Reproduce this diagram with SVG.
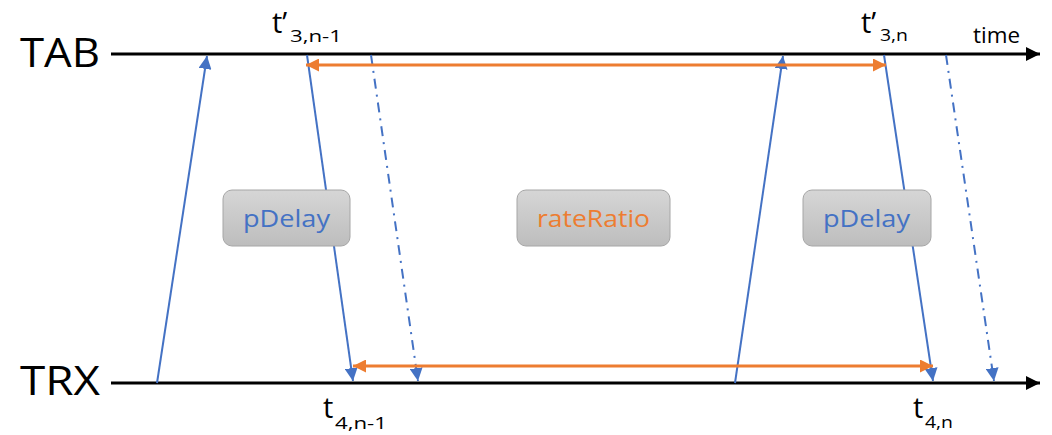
<svg xmlns="http://www.w3.org/2000/svg" width="1052" height="435" viewBox="0 0 1052 435">
<defs>
<linearGradient id="g" x1="0" y1="0" x2="0" y2="1"><stop offset="0" stop-color="#d6d6d6"/><stop offset="1" stop-color="#bdbdbd"/></linearGradient>
<marker id="ab" viewBox="0 0 10 10" refX="10" refY="5" markerWidth="13" markerHeight="13" markerUnits="userSpaceOnUse" orient="auto"><path d="M0,0L10,5L0,10z" fill="#4472c4"/></marker>
<marker id="ao" viewBox="0 0 10 10" refX="10" refY="5" markerWidth="13" markerHeight="13" markerUnits="userSpaceOnUse" orient="auto-start-reverse"><path d="M0,0L10,5L0,10z" fill="#ed7d31"/></marker>
<marker id="ak" viewBox="0 0 10 10" refX="10" refY="5" markerWidth="14" markerHeight="14" markerUnits="userSpaceOnUse" orient="auto"><path d="M0,0L10,5L0,10z" fill="#000"/></marker>
</defs>
<style>
text{font-family:"Open Sans","Noto Sans",sans-serif;fill:#000}
.ax{stroke:#000;stroke-width:3;fill:none}
.b{stroke:#4472c4;stroke-width:2;fill:none}
.bd{stroke:#4472c4;stroke-width:2;fill:none;stroke-dasharray:10,6,2,6}
.o{stroke:#ed7d31;stroke-width:3;fill:none}
.box{fill:url(#g);stroke:#a6a6a6;stroke-width:1}
.lbl{font-size:24px}
.big{font-size:29px}
.sub{font-size:17px}
</style>
<g id="axes">
<text x="20" y="67" font-size="40" textLength="80" lengthAdjust="spacingAndGlyphs">TAB</text>
<line class="ax" x1="111" y1="54" x2="1040" y2="54" marker-end="url(#ak)"/>
<text x="20" y="395" font-size="40" textLength="80" lengthAdjust="spacingAndGlyphs">TRX</text>
<line class="ax" x1="111" y1="383" x2="1040" y2="383" marker-end="url(#ak)"/>
<text x="973" y="43" font-size="22" textLength="47" lengthAdjust="spacingAndGlyphs">time</text>
</g>
<g id="labels">
<text class="big" x="272" y="33">t’</text>
<text class="sub" x="290" y="42" textLength="52" lengthAdjust="spacingAndGlyphs">3,n-1</text>
<text class="big" x="861" y="33">t’</text>
<text class="sub" x="880" y="41" textLength="28" lengthAdjust="spacingAndGlyphs">3,n</text>
<text class="big" x="323" y="418">t</text>
<text class="sub" x="335" y="429" textLength="52" lengthAdjust="spacingAndGlyphs">4,n-1</text>
<text class="big" x="913" y="418">t</text>
<text class="sub" x="925" y="428" textLength="28" lengthAdjust="spacingAndGlyphs">4,n</text>
</g>
<g id="connectors">
<line class="b" x1="157" y1="383" x2="207" y2="56" marker-end="url(#ab)"/>
<line class="b" x1="307" y1="55" x2="353" y2="381" marker-end="url(#ab)"/>
<line class="bd" x1="371" y1="55" x2="418" y2="381" marker-end="url(#ab)"/>
<line class="b" x1="735" y1="383" x2="783" y2="56" marker-end="url(#ab)"/>
<line class="b" x1="884" y1="55" x2="933" y2="381" marker-end="url(#ab)"/>
<line class="bd" x1="946" y1="55" x2="994" y2="381" marker-end="url(#ab)"/>
<line class="o" x1="306" y1="65" x2="886" y2="65" marker-start="url(#ao)" marker-end="url(#ao)"/>
<line class="o" x1="353" y1="366" x2="933" y2="366" marker-start="url(#ao)" marker-end="url(#ao)"/>
</g>
<g id="pdelay1">
<rect class="box" x="223" y="190" width="127" height="56" rx="9"/>
<text class="lbl" x="243" y="227" textLength="87" lengthAdjust="spacingAndGlyphs" style="fill:#4472c4">pDelay</text>
</g>
<g id="rateratio">
<rect class="box" x="517" y="190" width="153" height="56" rx="9"/>
<text class="lbl" x="537" y="227" textLength="113" lengthAdjust="spacingAndGlyphs" style="fill:#ed7d31">rateRatio</text>
</g>
<g id="pdelay2">
<rect class="box" x="803" y="190" width="128" height="56" rx="9"/>
<text class="lbl" x="823" y="227" textLength="87" lengthAdjust="spacingAndGlyphs" style="fill:#4472c4">pDelay</text>
</g>
</svg>
